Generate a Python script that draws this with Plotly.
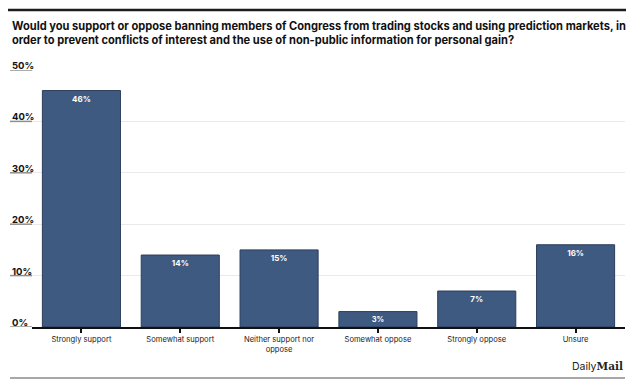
import plotly.graph_objects as go

categories = ["Strongly support", "Somewhat support", "Neither support nor<br>oppose",
              "Somewhat oppose", "Strongly oppose", "Unsure"]
values = [46, 14, 15, 3, 7, 16]
y_ticks = [0, 10, 20, 30, 40, 50]
y_tick_labels = [f"{t}%" for t in y_ticks]
title_text = ("Would you support or oppose banning members of Congress from trading stocks and using prediction markets, in<br>"
              "order to prevent conflicts of interest and the use of non-public information for personal gain?")

# the page shows the figure offset by the default 8px body margin
OFF = 8
PW, PH = 634, 387
W, H = PW - OFF, PH - OFF
L, R, T, B = 32 - OFF, PW - 625, 70 - OFF, PH - 327
pw, ph = W - L - R, H - T - B

def px_x(p):  # page pixel -> paper x
    return (p - OFF - L) / pw

def px_y(p):  # page pixel -> paper y
    return (H - B - (p - OFF)) / ph

FONT = "Inter, Roboto, Arial, sans-serif"

fig = go.Figure(go.Bar(
    x=categories, y=values,
    text=[f"{v}%" for v in values],
    textposition="inside", insidetextanchor="end",
    textfont=dict(color="white", size=8, family=FONT, weight="bold"),
    marker=dict(color="#3f5a81", line=dict(color="#2b3d5a", width=1)),
    width=0.79,
))

shapes = [
    dict(type="line", xref="paper", yref="paper", x0=px_x(8), x1=px_x(626),
         y0=px_y(10), y1=px_y(10), line=dict(color="#1c1c1c", width=2.5)),
    dict(type="line", xref="paper", yref="paper", x0=px_x(10), x1=px_x(625),
         y0=px_y(378), y1=px_y(378), line=dict(color="#8a8a8a", width=1.5)),
]
annotations = [
    # top rule drawn as a filled annotation box as well
    dict(text=" ", xref="paper", yref="paper", x=px_x(8), y=px_y(9),
         xanchor="left", yanchor="top", showarrow=False, width=618, height=1,
         bgcolor="#1c1c1c", borderpad=0, borderwidth=0, font=dict(size=1)),
    dict(text=title_text, xref="paper", yref="paper", x=px_x(10), y=px_y(17),
         xanchor="left", yanchor="top", align="left", showarrow=False,
         font=dict(size=11.1, color="#111111", family=FONT, weight="bold")),
    dict(text="Daily<b><span style='font-family:\"DejaVu Serif\", serif'>Mail</span></b>",
         xref="paper", yref="paper", x=px_x(625), y=px_y(366), xanchor="right", yanchor="middle",
         showarrow=False, font=dict(size=10.5, color="#222222", family=FONT)),
]
for t, lab in zip(y_ticks, y_tick_labels):
    shapes.append(dict(type="line", xref="paper", yref="y", x0=px_x(10), x1=0,
                       y0=t, y1=t, line=dict(color="#8f8f8f", width=1.5)))
    annotations.append(dict(text=lab, xref="paper", yref="y", x=px_x(10), y=t,
                            xanchor="left", yanchor="bottom", yshift=-3, showarrow=False,
                            font=dict(size=9.5, color="#111111", family=FONT, weight="bold")))

fig.update_layout(
    width=W, height=H,
    margin=dict(l=L, r=R, t=T, b=B),
    paper_bgcolor="white", plot_bgcolor="white",
    showlegend=False,
    font=dict(family=FONT, color="#222222"),
    xaxis=dict(showline=True, linecolor="#111111", linewidth=1.5, ticks="outside",
               ticklen=4, tickcolor="#111111", tickwidth=1.5,
               tickfont=dict(size=7.6, color="#222222"), showgrid=False),
    yaxis=dict(range=[0, 50], tickvals=y_ticks, showticklabels=False,
               showgrid=True, gridcolor="#e9e9e9", gridwidth=1, zeroline=False),
    shapes=shapes, annotations=annotations,
)

fig.write_html("out.html")
